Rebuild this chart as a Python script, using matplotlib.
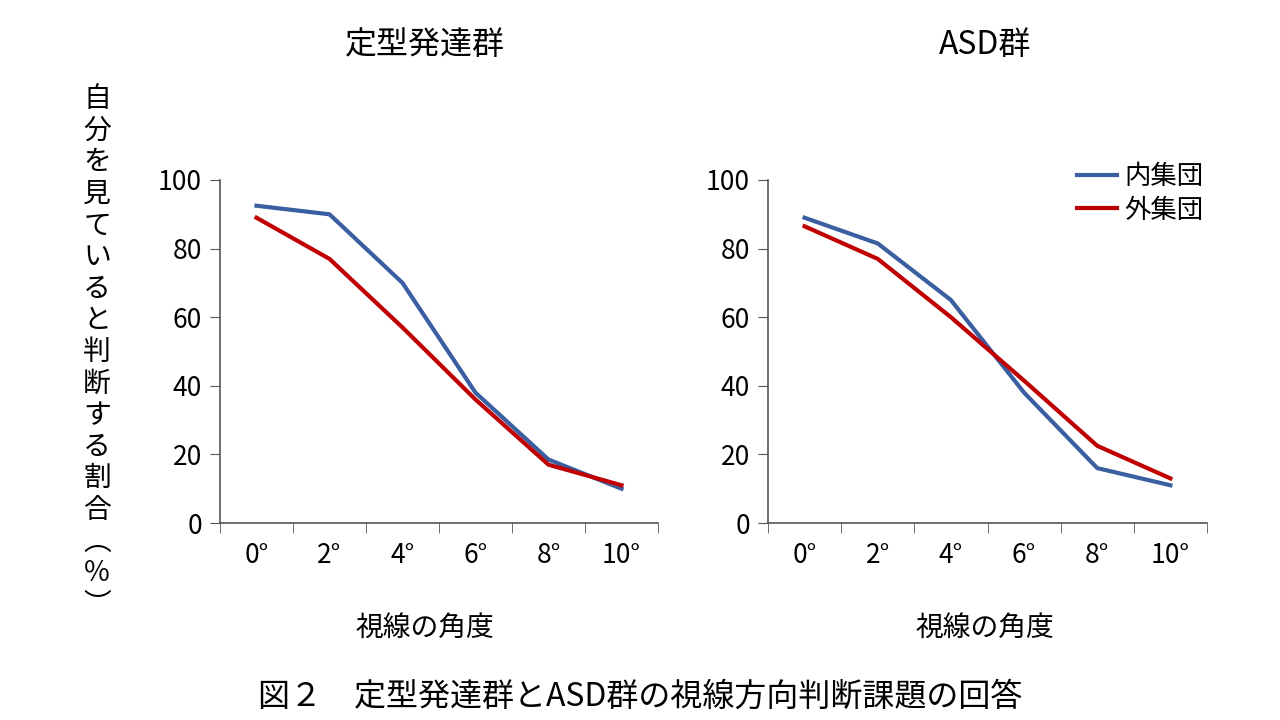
import matplotlib
matplotlib.use("Agg")
import matplotlib.pyplot as plt
import numpy as np

plt.rcParams["font.family"] = "Noto Sans CJK JP"

categories = ["0°", "2°", "4°", "6°", "8°", "10°"]
td_in = [92.5, 90, 70, 38, 18.5, 10]
td_out = [89, 77, 57, 36, 17, 11]
asd_in = [89, 81.5, 65, 38, 16, 11]
asd_out = [86.5, 77, 60, 41.5, 22.5, 13]
yticks = [0, 20, 40, 60, 80, 100]

BLUE = "#3A5FA0"
RED = "#C00000"

fig = plt.figure(figsize=(12.8, 7.2), dpi=100)
W, H = 1280, 720

def make_ax(x0, x1, y0, y1):
    return fig.add_axes([x0 / W, 1 - y1 / H, (x1 - x0) / W, (y1 - y0) / H])

panels = [
    (make_ax(220, 658, 180, 523), td_in, td_out, "定型発達群", 425),
    (make_ax(768, 1207, 180, 523), asd_in, asd_out, "ASD群", 985),
]
x = np.arange(len(categories))
for ax, a, b, title, cx in panels:
    ax.plot(x, a, color=BLUE, lw=3, label="内集団")
    ax.plot(x, b, color=RED, lw=3, label="外集団")
    ax.set_xlim(-0.5, len(categories) - 0.5)
    ax.set_ylim(0, 100)
    ax.set_yticks(yticks)
    ax.set_yticklabels([str(t) for t in yticks], fontsize=19)
    ax.set_xticks(x)
    ax.set_xticklabels(categories, fontsize=19)
    ax.set_xticks(np.arange(len(categories) + 1) - 0.5, minor=True)
    ax.tick_params(axis="x", which="major", length=0, pad=14)
    ax.tick_params(axis="x", which="minor", length=7, direction="out", color="#555555")
    ax.tick_params(axis="y", length=7, direction="out", color="#555555", pad=6)
    for s in ["top", "right"]:
        ax.spines[s].set_visible(False)
    for s in ["left", "bottom"]:
        ax.spines[s].set_color("#555555")
        ax.spines[s].set_linewidth(1.2)
    fig.text(cx / W, 1 - 45 / H, title, fontsize=23, ha="center", va="center")
    fig.text(cx / W, 1 - 628 / H, "視線の角度", fontsize=20, ha="center", va="center")

panels[1][0].legend(loc="upper left", bbox_to_anchor=(0.68, 1.08), frameon=False,
                    fontsize=19, handlelength=1.5, handletextpad=0.3, labelspacing=0.25,
                    borderaxespad=0)

ylabel = ["自", "分", "を", "見", "て", "い", "る", "と", "判", "断", "す", "る", "割", "合", "︵", "％", "︶"]
fig.text(97 / W, 1 - 352 / H, "\n".join(ylabel), fontsize=20, ha="center", va="center",
         linespacing=1.07)
fig.text(0.5, 1 - 697 / H, "図２　定型発達群とASD群の視線方向判断課題の回答", fontsize=23,
         ha="center", va="center")

fig.savefig("out.png", dpi=100)
